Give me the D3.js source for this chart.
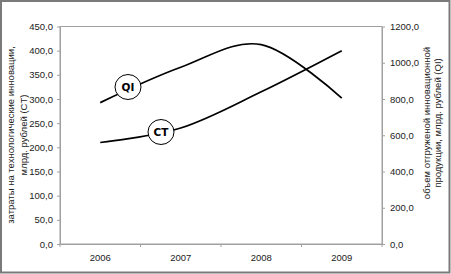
<!DOCTYPE html>
<html><head><meta charset="utf-8">
<script src="https://cdn.jsdelivr.net/npm/d3@7"></script>
<style>body{margin:0;background:#fff}svg{display:block}</style>
</head><body>
<script>
const years = ["2006","2007","2008","2009"];
const ctValues = [210, 240, 315, 400];
const qiValues = [780, 975, 1100, 805];
const leftTicks = [0,50,100,150,200,250,300,350,400,450];
const rightTicks = [0,200,400,600,800,1000,1200];
const leftTitle = ["затраты на технологические инновации,", "млрд. рублей (CT)"];
const rightTitle = ["объем отгруженой инновационной", "продукции, млрд. рублей (QI)"];

const W = 451, H = 274;
const m = {l:60, r:382, t:26.5, b:244};
const svg = d3.select("body").append("svg").attr("width",W).attr("height",H);
svg.append("rect").attr("x",0).attr("y",0).attr("width",W).attr("height",H).attr("fill","#fff");
svg.append("rect").attr("x",1).attr("y",1).attr("width",448.5).attr("height",271.5)
  .attr("fill","none").attr("stroke","#7a7a7a").attr("stroke-width",2);

const x = d3.scaleBand().domain(years).range([m.l, m.r]);
const yL = d3.scaleLinear().domain([0,450]).range([m.b, m.t]);
const yR = d3.scaleLinear().domain([0,1200]).range([m.b, m.t]);
const fmt = d => d3.format(".1f")(d).replace(".", ",");
const font = "'Liberation Sans', Arial, sans-serif";
const gray = "#a0a0a0";

// plot frame
svg.append("rect").attr("x",m.l).attr("y",m.t).attr("width",m.r-m.l).attr("height",m.b-m.t)
  .attr("fill","none").attr("stroke",gray).attr("stroke-width",1);

function styleAxis(g){
  g.selectAll(".domain").attr("stroke",gray);
  g.selectAll(".tick line").attr("stroke",gray);
  g.selectAll("text").attr("font-family",font).attr("font-size","9.5px").attr("fill","#222");
}
svg.append("g").attr("transform",`translate(${m.l},0)`)
  .call(d3.axisLeft(yL).tickValues(leftTicks).tickFormat(fmt).tickSize(3).tickPadding(4).tickSizeOuter(0))
  .call(styleAxis);
svg.append("g").attr("transform",`translate(${m.r},0)`)
  .call(d3.axisRight(yR).tickValues(rightTicks).tickFormat(fmt).tickSize(3).tickPadding(5).tickSizeOuter(0))
  .call(styleAxis);
svg.append("g").attr("transform",`translate(0,${m.b})`)
  .call(d3.axisBottom(x).tickSize(0).tickPadding(10).tickSizeOuter(0))
  .call(styleAxis);
// category boundary ticks
svg.append("g").selectAll("line").data(years.concat(["end"])).join("line")
  .attr("x1",(d,i)=> i<years.length ? x(d) : m.r).attr("x2",(d,i)=> i<years.length ? x(d) : m.r)
  .attr("y1",m.b).attr("y2",m.b+3).attr("stroke",gray);

// titles
const lt = svg.append("text").attr("transform",`translate(17,135) rotate(-90)`)
  .attr("text-anchor","middle").attr("font-family",font).attr("font-size","9.5px").attr("fill","#222");
leftTitle.forEach((s,i)=> lt.append("tspan").attr("x",0).attr("dy", i? "1.35em":"-0.35em").text(s));
const rt = svg.append("text").attr("transform",`translate(429.5,123) rotate(-90)`)
  .attr("text-anchor","middle").attr("font-family",font).attr("font-size","9.5px").attr("fill","#222");
rightTitle.forEach((s,i)=> rt.append("tspan").attr("x",0).attr("dy", i? "1.2em":"0em").text(s));

const cx = d => x(d) + x.bandwidth()/2;
const lineCT = d3.line().x((d,i)=>cx(years[i])).y(d=>yL(d)).curve(d3.curveCardinal.tension(0));
const lineQI = d3.line().x((d,i)=>cx(years[i])).y(d=>yR(d)).curve(d3.curveCardinal.tension(0));
svg.append("path").attr("d",lineCT(ctValues)).attr("fill","none").attr("stroke","#000").attr("stroke-width",1.7);
svg.append("path").attr("d",lineQI(qiValues)).attr("fill","none").attr("stroke","#000").attr("stroke-width",1.7);

// series labels (bubbles on lines)
function bubble(px, py, label){
  svg.append("ellipse").attr("cx",px).attr("cy",py).attr("rx",13).attr("ry",12.5)
    .attr("fill","#fff").attr("stroke","#000").attr("stroke-width",1);
  svg.append("text").attr("x",px).attr("y",py+4).attr("text-anchor","middle")
    .attr("font-family","'DejaVu Sans', Verdana, sans-serif").attr("font-weight","bold")
    .attr("font-size","10.5px").text(label);
}
bubble(128, 87, "QI");
bubble(161, 132, "CT");
</script>
</body></html>
